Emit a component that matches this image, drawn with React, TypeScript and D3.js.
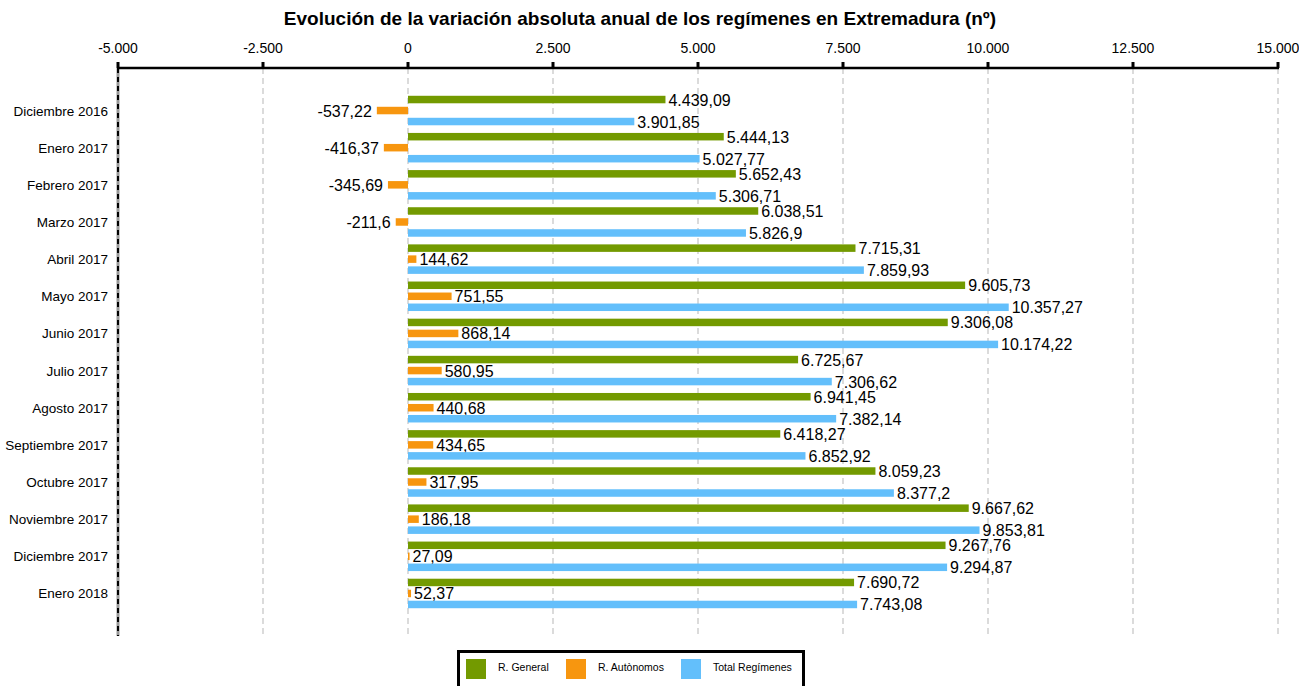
import React from "react";
import * as d3 from "d3";

const categories = ["Diciembre 2016","Enero 2017","Febrero 2017","Marzo 2017","Abril 2017","Mayo 2017","Junio 2017","Julio 2017","Agosto 2017","Septiembre 2017","Octubre 2017","Noviembre 2017","Diciembre 2017","Enero 2018"];
const general = [4439.09,5444.13,5652.43,6038.51,7715.31,9605.73,9306.08,6725.67,6941.45,6418.27,8059.23,9667.62,9267.76,7690.72];
const autonomos = [-537.22,-416.37,-345.69,-211.6,144.62,751.55,868.14,580.95,440.68,434.65,317.95,186.18,27.09,52.37];
const total = [3901.85,5027.77,5306.71,5826.9,7859.93,10357.27,10174.22,7306.62,7382.14,6852.92,8377.2,9853.81,9294.87,7743.08];
const ticks = [-5000,-2500,0,2500,5000,7500,10000,12500,15000];
const seriesNames = ["R. General","R. Autònomos","Total Regímenes"];
const colors = ["#739A00","#F7960F","#63BFFB"];

const fmt = (v: number) => {
  const neg = v < 0;
  const a = Math.abs(v);
  const parts = String(Math.round(a * 100) / 100).split(".");
  const int = parts[0].replace(/\B(?=(\d{3})+(?!\d))/g, ".");
  return (neg ? "-" : "") + int + (parts[1] ? "," + parts[1] : "");
};

export default function App() {
  const W = 1299, H = 686;
  const top = 68, bottom = 636;
  const x = d3.scaleLinear().domain([-5000, 15000]).range([118, 1278]);
  const y = d3.scalePoint<string>().domain(categories).range([top, bottom]).padding(1.145);
  const series = [general, autonomos, total];
  const offs = [-11, 0, 11];
  const bh = 7.5;
  const font = "Arial, 'Liberation Sans', sans-serif";
  return (
    <svg width={W} height={H} style={{ position: "absolute", left: 0, top: 0 }} fontFamily={font}>
      <rect width={W} height={H} fill="#fff" />
      <text x={640} y={25} textAnchor="middle" fontSize={19} fontWeight="bold">Evolución de la variación absoluta anual de los regímenes en Extremadura (nº)</text>
      {ticks.map((t) => (
        <g key={t}>
          {t !== -5000 && <line x1={x(t)} x2={x(t)} y1={top} y2={bottom} stroke="#c8c8c8" strokeWidth={1.3} strokeDasharray="6,4" />}
          <line x1={x(t)} x2={x(t)} y1={62} y2={top} stroke="#000" strokeWidth={3} />
          <text x={x(t)} y={53} textAnchor="middle" fontSize={14}>{fmt(t)}</text>
        </g>
      ))}
      <line x1={x(-5000)} x2={x(-5000)} y1={top} y2={bottom} stroke="#999" strokeWidth={3} />
      <line x1={x(-5000)} x2={x(-5000)} y1={top} y2={bottom} stroke="#000" strokeWidth={2} strokeDasharray="5,4" />
      <line x1={x(-5000) - 1} x2={x(15000) + 1} y1={top} y2={top} stroke="#000" strokeWidth={2.5} />
      {categories.map((c, i) => (
        <g key={c}>
          <text x={108} y={(y(c) as number) + 5} textAnchor="end" fontSize={13.5}>{c}</text>
          {series.map((s, k) => {
            const v = s[i];
            const cy = (y(c) as number) + offs[k];
            const x0 = x(Math.min(0, v)), x1 = x(Math.max(0, v));
            return (
              <g key={k}>
                <rect x={x0} y={cy - bh / 2} width={Math.max(x1 - x0, 0.5)} height={bh} fill={colors[k]} />
                <text x={v < 0 ? x0 - 5 : x1 + 3} y={cy + 6} textAnchor={v < 0 ? "end" : "start"} fontSize={16}>{fmt(v)}</text>
              </g>
            );
          })}
        </g>
      ))}
      <rect x={458.5} y={651.5} width={345} height={40} fill="#fff" stroke="#000" strokeWidth={3} />
      {seriesNames.map((n, k) => {
        const lx = [466, 566, 681][k];
        return (
          <g key={n}>
            <rect x={lx} y={659} width={20} height={20} fill={colors[k]} />
            <text x={lx + 32} y={671} fontSize={10.5}>{n}</text>
          </g>
        );
      })}
    </svg>
  );
}
